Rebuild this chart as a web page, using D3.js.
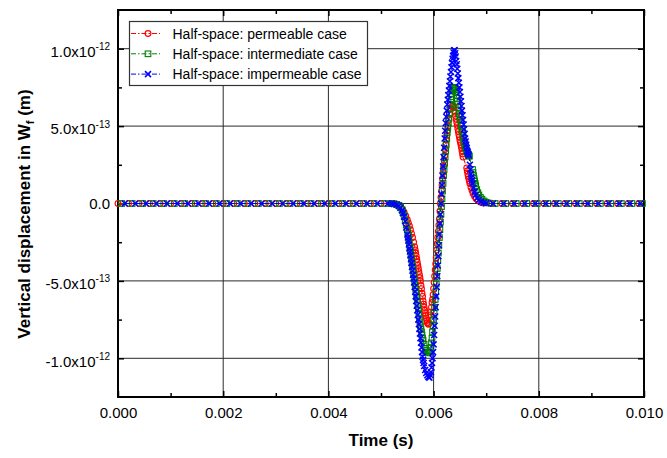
<!DOCTYPE html>
<html><head><meta charset="utf-8">
<script src="https://cdn.jsdelivr.net/npm/d3@7"></script>
<style>
body{margin:0;background:#fff}
text{font-family:Arial,"Liberation Sans",sans-serif;fill:#000}
</style>
</head><body>
<svg id="chart" width="667" height="458"></svg>
<script>
// ---------------- data ----------------
const VALUE_UNIT = 1e-12; // displacement values below are in units of 1e-12 m
const xTicks = [0, 0.002, 0.004, 0.006, 0.008, 0.010];
const xTickLabels = ["0.000", "0.002", "0.004", "0.006", "0.008", "0.010"];
const xMinorTicks = [0.001, 0.003, 0.005, 0.007, 0.009];
const yTicks = [-1.0, -0.5, 0, 0.5, 1.0];
const yTickMantissa = ["-1.0x10", "-5.0x10", "0.0", "5.0x10", "1.0x10"];
const yTickExponent = ["-12", "-13", "", "-13", "-12"];
const yMinorTicks = [-0.75, -0.25, 0.25, 0.75];
const seriesNames = ["Half-space: permeable case", "Half-space: intermediate case", "Half-space: impermeable case"];
const seriesColors = ["#ff0000", "#008000", "#0000ff"];
const seriesSymbols = ["circle", "square", "cross"];

// [time (s), vertical displacement (1e-12 m)]
const permeable = [
[0,0],[0.0002,0],[0.0004,0],[0.0006,0],[0.0008,0],[0.0010,0],[0.0012,0],[0.0014,0],[0.0016,0],[0.0018,0],[0.0020,0],[0.0022,0],[0.0024,0],[0.0026,0],[0.0028,0],[0.0030,0],[0.0032,0],[0.0034,0],[0.0036,0],[0.0038,0],[0.0040,0],[0.0042,0],[0.0044,0],[0.0046,0],[0.0048,0],[0.0050,0],
[0.00520,0],[0.00525,-0.002],[0.00530,-0.006],[0.00534,-0.014],[0.00538,-0.026],[0.00541,-0.04],[0.00544,-0.058],[0.00547,-0.08],[0.00550,-0.105],[0.00552,-0.125],[0.00554,-0.145],[0.00556,-0.17],[0.00558,-0.195],[0.00560,-0.22],[0.00562,-0.25],[0.00564,-0.28],[0.00565,-0.30],[0.00566,-0.32],[0.00567,-0.34],[0.00568,-0.36],[0.00569,-0.38],[0.00570,-0.40],[0.00571,-0.42],[0.00572,-0.44],[0.00573,-0.46],[0.00574,-0.48],[0.00575,-0.50],[0.00576,-0.53],[0.00577,-0.55],[0.00578,-0.58],[0.00579,-0.60],[0.00580,-0.63],[0.00581,-0.65],[0.00582,-0.67],[0.00583,-0.69],[0.00584,-0.71],[0.00585,-0.725],[0.00586,-0.74],[0.00587,-0.755],[0.00588,-0.77],[0.00590,-0.78],[0.00592,-0.775],[0.00594,-0.72],[0.00595,-0.70],[0.00596,-0.67],[0.00597,-0.64],[0.00598,-0.62],[0.00599,-0.59],[0.00600,-0.55],[0.00601,-0.51],[0.00602,-0.47],[0.00603,-0.43],[0.00604,-0.39],[0.00605,-0.35],[0.00606,-0.30],[0.00607,-0.26],[0.00608,-0.22],[0.00609,-0.18],[0.00610,-0.14],[0.00611,-0.10],[0.00612,-0.05],[0.00613,0.00],[0.00614,0.04],[0.00615,0.08],[0.00616,0.12],[0.00617,0.16],[0.00618,0.20],[0.00619,0.24],[0.00620,0.28],[0.00621,0.31],[0.00622,0.35],[0.00623,0.38],[0.00624,0.41],[0.00625,0.44],[0.00626,0.47],[0.00627,0.50],[0.00629,0.54],[0.00631,0.58],[0.00633,0.61],[0.00635,0.625],[0.00637,0.63],[0.00639,0.62],[0.00641,0.59],[0.00642,0.565],[0.00643,0.545],[0.00644,0.525],[0.00645,0.505],[0.00646,0.485],[0.00647,0.465],[0.00648,0.445],[0.00649,0.43],[0.00650,0.41],[0.00651,0.395],[0.00652,0.38],[0.00653,0.36],[0.00654,0.34],[0.00655,0.32],[0.00656,0.30],
[0.00663,0.23],[0.00664,0.21],[0.00665,0.19],[0.00666,0.175],[0.00667,0.16],[0.00668,0.145],[0.00669,0.13],[0.00671,0.105],[0.00673,0.085],[0.00675,0.065],[0.00678,0.045],[0.00681,0.03],[0.00685,0.018],[0.00690,0.008],[0.00695,0.003],
[0.0071,0],[0.0073,0],[0.0075,0],[0.0077,0],[0.0079,0],[0.0081,0],[0.0083,0],[0.0085,0],[0.0087,0],[0.0089,0],[0.0091,0],[0.0093,0],[0.0095,0],[0.0097,0],[0.0099,0]
];

const intermediate = [
[0.00007,0],[0.00027,0],[0.00047,0],[0.00067,0],[0.00087,0],[0.00107,0],[0.00127,0],[0.00147,0],[0.00167,0],[0.00187,0],[0.00207,0],[0.00227,0],[0.00247,0],[0.00267,0],[0.00287,0],[0.00307,0],[0.00327,0],[0.00347,0],[0.00367,0],[0.00387,0],[0.00407,0],[0.00427,0],[0.00447,0],[0.00467,0],[0.00487,0],[0.00507,0],
[0.00520,0],[0.00525,-0.002],[0.00530,-0.006],[0.00534,-0.012],[0.00537,-0.022],[0.00540,-0.04],[0.00542,-0.06],[0.00544,-0.08],[0.00546,-0.11],[0.00548,-0.14],[0.00550,-0.17],[0.00551,-0.19],[0.00552,-0.21],[0.00553,-0.23],[0.00554,-0.255],[0.00555,-0.28],[0.00556,-0.305],[0.00557,-0.33],[0.00558,-0.355],[0.00559,-0.38],[0.00560,-0.405],[0.00561,-0.43],[0.00562,-0.455],[0.00563,-0.48],[0.00564,-0.505],[0.00565,-0.53],[0.00566,-0.555],[0.00567,-0.58],[0.00568,-0.605],[0.00569,-0.63],[0.00570,-0.655],[0.00571,-0.68],[0.00572,-0.71],[0.00573,-0.74],[0.00574,-0.765],[0.00575,-0.79],[0.00576,-0.81],[0.00577,-0.83],[0.00578,-0.85],[0.00579,-0.87],[0.00580,-0.885],[0.00582,-0.91],[0.00584,-0.935],[0.00586,-0.95],[0.00588,-0.96],[0.00590,-0.965],[0.00592,-0.96],[0.00594,-0.95],[0.00595,-0.93],[0.00596,-0.90],[0.00597,-0.87],[0.00598,-0.83],[0.00599,-0.79],[0.00600,-0.75],[0.00601,-0.71],[0.00602,-0.67],[0.00603,-0.62],[0.00604,-0.57],[0.00605,-0.52],[0.00606,-0.47],[0.00607,-0.42],[0.00608,-0.37],[0.00609,-0.32],[0.00610,-0.27],[0.00611,-0.22],[0.00612,-0.17],[0.00613,-0.12],[0.00614,-0.07],[0.00615,-0.02],[0.00616,0.03],[0.00617,0.08],[0.00618,0.13],[0.00619,0.18],[0.00620,0.22],[0.00621,0.26],[0.00622,0.30],[0.00623,0.34],[0.00624,0.38],[0.00625,0.42],[0.00626,0.46],[0.00627,0.49],[0.00628,0.52],[0.00629,0.55],[0.00630,0.58],[0.00631,0.61],[0.00632,0.64],[0.00633,0.67],[0.00634,0.69],[0.00635,0.71],[0.00636,0.73],[0.00637,0.74],[0.00638,0.75],[0.00639,0.75],[0.00640,0.745],[0.00641,0.735],[0.00642,0.72],[0.00643,0.70],[0.00644,0.68],[0.00645,0.66],[0.00646,0.64],[0.00647,0.62],[0.00648,0.60],[0.00649,0.58],[0.00650,0.56],[0.00651,0.54],[0.00652,0.52],[0.00653,0.50],[0.00654,0.48],[0.00655,0.46],[0.00656,0.44],[0.00657,0.42],[0.00658,0.40],[0.00659,0.385],[0.00660,0.37],[0.00661,0.36],[0.00662,0.35],[0.00663,0.34],[0.00664,0.33],[0.00665,0.32],[0.00666,0.315],[0.00667,0.31],[0.00668,0.305],
[0.00674,0.22],[0.00675,0.20],[0.00676,0.18],[0.00677,0.16],[0.00678,0.145],[0.00679,0.13],[0.00680,0.115],[0.00682,0.09],[0.00684,0.07],[0.00686,0.055],[0.00689,0.04],[0.00692,0.028],[0.00696,0.016],[0.00700,0.008],[0.00705,0.003],
[0.00717,0],[0.00737,0],[0.00757,0],[0.00777,0],[0.00797,0],[0.00817,0],[0.00837,0],[0.00857,0],[0.00877,0],[0.00897,0],[0.00917,0],[0.00937,0],[0.00957,0],[0.00977,0],[0.00997,0]
];

const impermeable = [
[0.00013,0],[0.00033,0],[0.00053,0],[0.00073,0],[0.00093,0],[0.00113,0],[0.00133,0],[0.00153,0],[0.00173,0],[0.00193,0],[0.00213,0],[0.00233,0],[0.00253,0],[0.00273,0],[0.00293,0],[0.00313,0],[0.00333,0],[0.00353,0],[0.00373,0],[0.00393,0],[0.00413,0],[0.00433,0],[0.00453,0],[0.00473,0],[0.00493,0],[0.00513,0],
[0.00520,0],[0.00525,-0.003],[0.00530,-0.008],[0.00534,-0.016],[0.00537,-0.027],[0.00540,-0.045],[0.00542,-0.062],[0.00544,-0.085],[0.00546,-0.115],[0.00548,-0.155],[0.00550,-0.20],[0.00551,-0.22],[0.00552,-0.24],[0.00553,-0.265],[0.00554,-0.29],[0.00555,-0.31],[0.00556,-0.335],[0.00557,-0.36],[0.00558,-0.385],[0.00559,-0.41],[0.00560,-0.435],[0.00561,-0.46],[0.00562,-0.485],[0.00563,-0.51],[0.00564,-0.54],[0.00565,-0.57],[0.00566,-0.60],[0.00567,-0.63],[0.00568,-0.66],[0.00569,-0.69],[0.00570,-0.72],[0.00571,-0.75],[0.00572,-0.78],[0.00573,-0.81],[0.00574,-0.84],[0.00575,-0.87],[0.00576,-0.90],[0.00577,-0.93],[0.00578,-0.96],[0.00579,-0.99],[0.00580,-1.01],[0.00581,-1.03],[0.00582,-1.05],[0.00584,-1.075],[0.00586,-1.095],[0.00588,-1.11],[0.00590,-1.12],[0.00592,-1.125],[0.00594,-1.11],[0.00595,-1.09],[0.00596,-1.06],[0.00597,-1.03],[0.00598,-1.00],[0.00599,-0.96],[0.00600,-0.91],[0.00601,-0.85],[0.00602,-0.79],[0.00603,-0.73],[0.00604,-0.67],[0.00605,-0.60],[0.00606,-0.54],[0.00607,-0.47],[0.00608,-0.40],[0.00609,-0.34],[0.00610,-0.27],[0.00611,-0.20],[0.00612,-0.13],[0.00613,-0.07],[0.00614,0.00],[0.00615,0.06],[0.00616,0.12],[0.00617,0.18],[0.00618,0.24],[0.00619,0.30],[0.00620,0.36],[0.00621,0.42],[0.00622,0.47],[0.00623,0.52],[0.00624,0.56],[0.00625,0.60],[0.00626,0.64],[0.00627,0.67],[0.00628,0.70],[0.00629,0.73],[0.00630,0.76],[0.00631,0.79],[0.00632,0.82],[0.00633,0.85],[0.00634,0.88],[0.00635,0.91],[0.00636,0.935],[0.00637,0.955],[0.00638,0.975],[0.00639,0.99],[0.00640,0.99],[0.00641,0.97],[0.00642,0.95],[0.00643,0.92],[0.00644,0.90],[0.00645,0.87],[0.00646,0.84],[0.00647,0.81],[0.00648,0.78],[0.00649,0.75],[0.00650,0.72],[0.00651,0.69],[0.00652,0.66],[0.00653,0.63],[0.00654,0.60],[0.00655,0.57],[0.00656,0.54],[0.00657,0.51],[0.00658,0.48],[0.00659,0.45],[0.00660,0.42],[0.00661,0.40],[0.00662,0.38],[0.00663,0.36],[0.00664,0.34],[0.00665,0.33],[0.00666,0.32],[0.00667,0.31],
[0.00669,0.25],[0.00670,0.22],[0.00671,0.19],[0.00672,0.17],[0.00673,0.15],[0.00674,0.13],[0.00676,0.10],[0.00678,0.075],[0.00680,0.055],[0.00683,0.035],[0.00686,0.022],[0.00690,0.012],[0.00695,0.005],[0.00700,0.002],
[0.00713,0],[0.00733,0],[0.00753,0],[0.00773,0],[0.00793,0],[0.00813,0],[0.00833,0],[0.00853,0],[0.00873,0],[0.00893,0],[0.00913,0],[0.00933,0],[0.00953,0],[0.00973,0],[0.00993,0]
];
const seriesData = [permeable, intermediate, impermeable];

// ---------------- layout ----------------
const plot = {left: 118, right: 644, top: 10, bottom: 397};
const svg = d3.select("#chart");
const x = d3.scaleLinear().domain([0, 0.010]).range([plot.left, plot.right]);
const y = d3.scaleLinear().domain([-1.25e-12, 1.25e-12]).range([plot.bottom, plot.top]);

// gridlines
const grid = svg.append("g").attr("stroke", "#2a2a2a").attr("stroke-width", 1);
grid.selectAll(".gx").data(xTicks.filter(t => t > 0 && t < 0.010)).enter().append("line")
  .attr("x1", d => x(d)).attr("x2", d => x(d)).attr("y1", plot.top).attr("y2", plot.bottom);
grid.selectAll(".gy").data(yTicks).enter().append("line")
  .attr("y1", d => y(d * VALUE_UNIT)).attr("y2", d => y(d * VALUE_UNIT)).attr("x1", plot.left).attr("x2", plot.right);

// axes (ticks inward on all four sides)
function styleAxis(g) {
  g.select(".domain").remove();
  g.selectAll(".tick line").attr("stroke", "#000").attr("stroke-width", 1.5);
}
const yMajorVals = yTicks.map(d => d * VALUE_UNIT);
const yMinorVals = yMinorTicks.map(d => d * VALUE_UNIT);

svg.append("g").attr("transform", `translate(0,${plot.bottom})`)
  .call(d3.axisBottom(x).tickValues(xTicks).tickSize(-6).tickPadding(10)
    .tickFormat((d, i) => xTickLabels[i]))
  .call(styleAxis)
  .call(g => g.selectAll("text").attr("font-size", 15).attr("font-family", "Arial, 'Liberation Sans', sans-serif"));
svg.append("g").attr("transform", `translate(0,${plot.bottom})`)
  .call(d3.axisBottom(x).tickValues(xMinorTicks).tickSize(-4).tickFormat(""))
  .call(styleAxis);
svg.append("g").attr("transform", `translate(0,${plot.top})`)
  .call(d3.axisTop(x).tickValues(xTicks).tickSize(-6).tickFormat(""))
  .call(styleAxis);
svg.append("g").attr("transform", `translate(0,${plot.top})`)
  .call(d3.axisTop(x).tickValues(xMinorTicks).tickSize(-4).tickFormat(""))
  .call(styleAxis);
svg.append("g").attr("transform", `translate(${plot.left},0)`)
  .call(d3.axisLeft(y).tickValues(yMajorVals).tickSize(-6).tickFormat(""))
  .call(styleAxis);
svg.append("g").attr("transform", `translate(${plot.left},0)`)
  .call(d3.axisLeft(y).tickValues(yMinorVals).tickSize(-4).tickFormat(""))
  .call(styleAxis);
svg.append("g").attr("transform", `translate(${plot.right},0)`)
  .call(d3.axisRight(y).tickValues(yMajorVals).tickSize(-6).tickFormat(""))
  .call(styleAxis);
svg.append("g").attr("transform", `translate(${plot.right},0)`)
  .call(d3.axisRight(y).tickValues(yMinorVals).tickSize(-4).tickFormat(""))
  .call(styleAxis);

// y tick labels with superscript exponents
const yl = svg.append("g");
yTicks.forEach((v, i) => {
  const yy = y(v * VALUE_UNIT);
  const t = yl.append("text").attr("x", 110).attr("text-anchor", "end").attr("font-size", 15)
    .attr("y", yTickExponent[i] ? yy + 8.3 : yy + 5.2);
  t.append("tspan").text(yTickMantissa[i]);
  if (yTickExponent[i]) {
    t.append("tspan").attr("font-size", 10).attr("dy", -6.8).text(yTickExponent[i]);
  }
});

// frame
svg.append("rect").attr("x", plot.left).attr("y", plot.top)
  .attr("width", plot.right - plot.left).attr("height", plot.bottom - plot.top)
  .attr("fill", "none").attr("stroke", "#000").attr("stroke-width", 2);

// series
const line = d3.line().x(d => x(d[0])).y(d => y(d[1] * VALUE_UNIT));
function drawSymbol(sel, kind, color) {
  if (kind === "circle") {
    sel.append("circle").attr("r", 2.9).attr("fill", "none").attr("stroke", color).attr("stroke-width", 1.1);
  } else if (kind === "square") {
    sel.append("rect").attr("x", -2.8).attr("y", -2.8).attr("width", 5.6).attr("height", 5.6)
      .attr("fill", "none").attr("stroke", color).attr("stroke-width", 1.1);
  } else {
    sel.append("path").attr("d", "M-3,-3L3,3M-3,3L3,-3").attr("fill", "none")
      .attr("stroke", color).attr("stroke-width", 1.5);
  }
}
seriesData.forEach((data, i) => {
  const g = svg.append("g");
  g.append("path").datum(data).attr("d", line).attr("fill", "none")
    .attr("stroke", seriesColors[i]).attr("stroke-width", 1).attr("stroke-dasharray", "6,2,1.5,2");
  g.selectAll("g.m").data(data).enter().append("g")
    .attr("transform", d => `translate(${x(d[0])},${y(d[1] * VALUE_UNIT)})`)
    .each(function () { drawSymbol(d3.select(this), seriesSymbols[i], seriesColors[i]); });
});

// legend
const lg = svg.append("g");
lg.append("rect").attr("x", 129.5).attr("y", 21.5).attr("width", 238).attr("height", 64)
  .attr("fill", "#fff").attr("stroke", "#333").attr("stroke-width", 1.2);
seriesNames.forEach((name, i) => {
  const cy = 33.5 + i * 20.3;
  lg.append("line").attr("x1", 131).attr("x2", 160).attr("y1", cy).attr("y2", cy)
    .attr("stroke", seriesColors[i]).attr("stroke-width", 1).attr("stroke-dasharray", "5,2,1.5,2");
  const s = lg.append("g").attr("transform", `translate(148,${cy})`);
  drawSymbol(s, seriesSymbols[i], seriesColors[i]);
  lg.append("text").attr("x", 172.5).attr("y", cy + 5).attr("font-size", 14).text(name);
});

// axis titles
svg.append("text").attr("x", (plot.left + plot.right) / 2).attr("y", 446)
  .attr("text-anchor", "middle").attr("font-size", 17).attr("font-weight", "bold").text("Time (s)");
const yt = svg.append("text").attr("transform", "translate(29.5,214) rotate(-90)")
  .attr("text-anchor", "middle").attr("font-size", 17).attr("font-weight", "bold");
yt.append("tspan").text("Vertical displacement in W");
yt.append("tspan").attr("font-size", 11).attr("dy", 4).text("f");
yt.append("tspan").attr("dy", -4).text(" (m)");
</script>
</body></html>
